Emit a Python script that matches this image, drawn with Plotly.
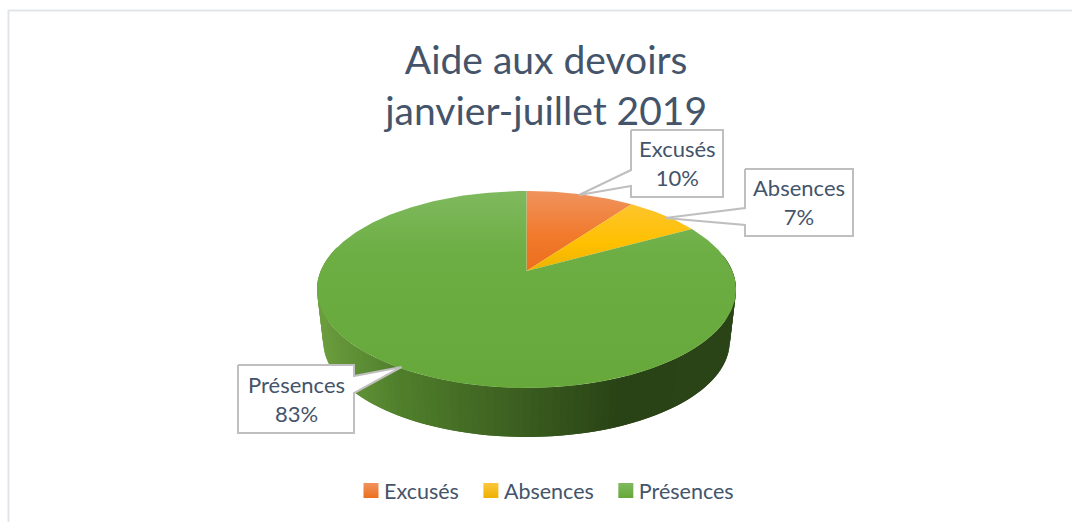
import numpy as np
import plotly.graph_objects as go

title_lines = ["Aide aux devoirs", "janvier-juillet 2019"]
categories = ["Excusés", "Absences", "Présences"]
percents = [10, 7, 83]

W, H = 1072, 522
TEXT = "#44546a"
FONT = "Lato"
CX, CY = 526.5, 271
A, B, K = 205.8, 95.0, 0.188
WALL_SCALE, WALL_DROP = 0.97, 52.5


def project(theta, scale=1.0, drop=0.0):
    u, v = np.sin(theta), np.cos(theta)
    d = 1 + K * v
    return CX + scale * A * u / d, CY + drop - scale * B * v / d


values = np.array(percents, dtype=float)
edges = np.concatenate([[0], np.cumsum(values)]) / values.sum() * 2 * np.pi

grads = {
    "Excusés": dict(colorscale=[[0, "#f0935e"], [0.55, "#f17a2c"], [1, "#ec6f1e"]], start=191, stop=271),
    "Absences": dict(colorscale=[[0, "#fdc63c"], [0.65, "#ffc000"], [1, "#ecb200"]], start=191, stop=271),
    "Présences": dict(colorscale=[[0, "#7fb95e"], [0.32, "#6dae44"], [1, "#66a83a"]], start=191, stop=388),
}
legend_cols = {
    "Excusés": ("#f0935e", "#ec6f1e"),
    "Absences": ("#fdc63c", "#ecb200"),
    "Présences": ("#7fb95e", "#66a83a"),
}

fig = go.Figure()

# side wall: thin overlapping strips along the visible front of the last slice
wall_x = [320, 400, 520, 620, 730]
wall_rgb = np.array([[107, 157, 62], [80, 127, 44], [60, 94, 32], [41, 67, 22], [43, 69, 24]])
wall_start = max(edges[2], np.radians(80))
wall_end = min(edges[3], np.radians(285))
steps = np.linspace(wall_start, wall_end, 121)
overlap = steps[1] - steps[0]
for t0, t1 in zip(steps[:-1], steps[1:]):
    ts = np.linspace(t0, min(t1 + overlap, wall_end), 4)
    xt, yt = project(ts)
    xb, yb = project(ts[::-1], WALL_SCALE, WALL_DROP)
    mid = project(np.array([(t0 + t1) / 2]))[0][0]
    rgb = [int(np.interp(mid, wall_x, wall_rgb[:, i])) for i in range(3)]
    col = f"rgb({rgb[0]},{rgb[1]},{rgb[2]})"
    fig.add_trace(go.Scatter(
        x=np.concatenate([xt, xb]), y=np.concatenate([yt, yb]),
        mode="lines", line=dict(width=0), fill="toself", fillcolor=col,
        hoverinfo="skip", showlegend=False))

# top face, one sector per category
for name, t0, t1 in zip(categories, edges[:-1], edges[1:]):
    ts = np.linspace(t0, t1, max(int((t1 - t0) * 60), 8))
    px, py = project(ts)
    fig.add_trace(go.Scatter(
        x=np.concatenate([[CX], px, [CX]]), y=np.concatenate([[CY], py, [CY]]),
        mode="lines", line=dict(width=0), fill="toself",
        fillgradient=dict(type="vertical", **grads[name]),
        name=name, showlegend=False, hovertemplate=name + "<extra></extra>"))

# legend entries
for name in categories:
    top, bottom = legend_cols[name]
    fig.add_trace(go.Scatter(
        x=[None], y=[None], mode="markers", name=name,
        marker=dict(symbol="square", size=15, color=top,
                    gradient=dict(type="vertical", color=bottom))))

# callouts
callouts = {
    "Excusés": dict(box=(631, 130, 723, 197), tip=(579, 195), base=(170, 186)),
    "Absences": dict(box=(745, 169, 853, 236), tip=(665, 218), base=(208, 225)),
    "Présences": dict(box=(238, 365, 354, 433), tip=(401.5, 367), base=(376, 393)),
}
for name, pct in zip(categories, percents):
    c = callouts[name]
    x0, y0, x1, y1 = c["box"]
    side = x0 if c["tip"][0] < x0 else x1
    b0, b1 = c["base"]
    if side == x0:
        xs = [x0, x1, x1, x0, x0, c["tip"][0], x0, x0]
        ys = [y0, y0, y1, y1, b1, c["tip"][1], b0, y0]
    else:
        xs = [x0, x1, x1, c["tip"][0], x1, x1, x0, x0]
        ys = [y0, y0, b0, c["tip"][1], b1, y1, y1, y0]
    fig.add_trace(go.Scatter(
        x=xs, y=ys, mode="lines", fill="toself", fillcolor="#ffffff",
        line=dict(color="#bfbfbf", width=2), hoverinfo="skip", showlegend=False))
    fig.add_annotation(
        x=(x0 + x1) / 2, y=(y0 + y1) / 2 - 0.5, xref="x", yref="y",
        text=f"{name}<br>{pct}%", showarrow=False, align="center",
        font=dict(family=FONT, size=22, color=TEXT))

fig.update_layout(
    width=W, height=H,
    margin=dict(l=0, r=0, t=0, b=0),
    paper_bgcolor="#ffffff", plot_bgcolor="#ffffff",
    xaxis=dict(range=[0, W], visible=False, fixedrange=True),
    yaxis=dict(range=[H, 0], visible=False, fixedrange=True),
    title=dict(text="<br>".join(title_lines), x=0.5095, xanchor="center",
               y=0.858, yanchor="bottom",
               font=dict(family=FONT, size=39, color=TEXT)),
    legend=dict(orientation="h", x=0.3209, xanchor="left", y=0.021, yanchor="bottom",
                font=dict(family=FONT, size=21.5, color=TEXT), itemwidth=30,
                bgcolor="rgba(0,0,0,0)"),
    shapes=[dict(type="rect", xref="x", yref="y", x0=8.5, y0=10.5, x1=W + 20, y1=H + 20,
                 line=dict(color="#e1e5ea", width=2), layer="below")],
)

# the native legend leaves a wider gap before its labels than the reference: nudge the swatches
post = ("document.body.style.margin='0';document.body.style.overflow='hidden';"
        "document.querySelectorAll('.legend .legendsymbols').forEach(function(g){"
        "g.setAttribute('transform','translate(7,0)');});")
fig.write_html("out.html", config={"displayModeBar": False}, post_script=post)
